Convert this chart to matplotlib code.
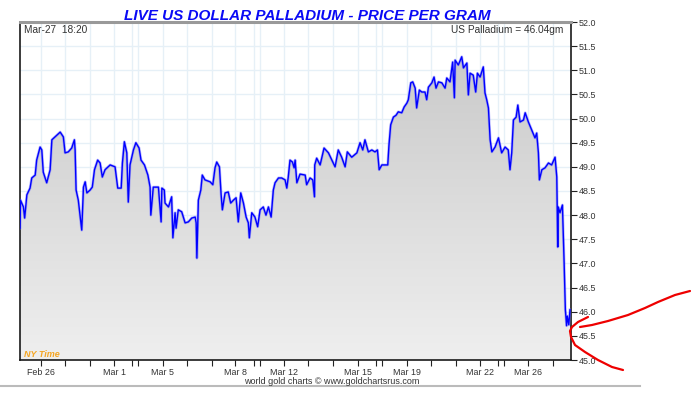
import numpy as np
import matplotlib
matplotlib.use('Agg')
from matplotlib import pyplot as plt
from matplotlib.colors import LinearSegmentedColormap
from matplotlib.patches import Polygon
from matplotlib.lines import Line2D

plt.rcParams['font.family'] = ['Liberation Sans', 'DejaVu Sans']

# trading-day index (weekends squeezed), 0 = Feb 26
t_days = [-0.86, -0.84, -0.72, -0.67, -0.58, -0.45, -0.38, -0.24, -0.18, -0.04,
          0.03, 0.09, 0.23, 0.37, 0.44, 0.57, 0.78, 0.91, 0.98, 1.11,
          1.25, 1.36, 1.39, 1.43, 1.52, 1.66, 1.73, 1.80, 1.87, 2.00,
          2.09, 2.18, 2.31, 2.41, 2.50, 2.61, 2.82, 3.02, 3.13, 3.27,
          3.32, 3.40, 3.50, 3.56, 3.63, 3.77, 3.87, 4.00, 4.08, 4.22,
          4.36, 4.45, 4.48, 4.58, 4.79, 4.90, 4.93, 5.03, 5.06, 5.20,
          5.33, 5.38, 5.47, 5.51, 5.60, 5.74, 5.88, 6.01, 6.15, 6.29,
          6.33, 6.36, 6.42, 6.52, 6.58, 6.69, 6.90, 7.01, 7.10, 7.17,
          7.28, 7.35, 7.40, 7.51, 7.64, 7.74, 7.85, 7.96, 8.05, 8.15,
          8.26, 8.37, 8.46, 8.50, 8.60, 8.73, 8.84, 8.94, 9.07, 9.18,
          9.28, 9.39, 9.48, 9.55, 9.69, 9.82, 9.96, 10.03, 10.09, 10.16,
          10.26, 10.33, 10.37, 10.44, 10.57, 10.78, 10.84, 10.98, 11.09, 11.16,
          11.17, 11.25, 11.39, 11.55, 11.73, 11.87, 12.00, 12.13, 12.27, 12.41,
          12.50, 12.68, 12.89, 13.02, 13.13, 13.22, 13.36, 13.50, 13.63, 13.73,
          13.80, 13.91, 14.15, 14.20, 14.27, 14.38, 14.49, 14.58, 14.72, 14.82,
          14.93, 14.99, 15.09, 15.17, 15.27, 15.33, 15.44, 15.54, 15.67, 15.74,
          15.81, 15.95, 16.04, 16.12, 16.22, 16.36, 16.49, 16.56, 16.69, 16.80,
          16.87, 16.90, 17.03, 17.17, 17.24, 17.38, 17.44, 17.51, 17.64, 17.74,
          17.81, 17.92, 18.05, 18.12, 18.19, 18.26, 18.33, 18.40, 18.53, 18.67,
          18.80, 18.94, 19.07, 19.14, 19.21, 19.28, 19.39, 19.46, 19.55, 19.69,
          19.76, 19.89, 20.03, 20.16, 20.23, 20.30, 20.34, 20.44, 20.57, 20.71,
          20.84, 20.98, 21.05, 21.09, 21.11, 21.18, 21.28, 21.32, 21.35, 21.40,
          21.45, 21.48, 21.54, 21.59]

price = [47.73, 48.31, 48.17, 47.94, 48.42, 48.56, 48.77, 48.83, 49.14, 49.41,
         49.35, 48.89, 48.67, 48.94, 49.56, 49.62, 49.72, 49.62, 49.29, 49.31,
         49.39, 49.56, 49.35, 48.52, 48.31, 47.69, 48.58, 48.69, 48.46, 48.52,
         48.58, 48.94, 49.14, 49.08, 48.79, 48.94, 49.04, 49.00, 48.56, 48.56,
         49.08, 49.52, 49.29, 48.27, 49.04, 49.35, 49.50, 49.39, 49.14, 49.04,
         48.83, 48.58, 48.00, 48.58, 48.58, 47.86, 48.56, 48.52, 48.25, 48.17,
         48.38, 47.53, 48.05, 47.73, 48.11, 48.07, 47.84, 47.86, 47.94, 47.96,
         47.84, 47.11, 48.31, 48.52, 48.83, 48.73, 48.69, 48.63, 48.98, 49.10,
         49.00, 48.42, 48.11, 48.46, 48.48, 48.25, 48.31, 48.36, 47.86, 48.46,
         48.25, 47.96, 47.84, 47.53, 48.05, 47.96, 47.76, 48.11, 48.17, 48.00,
         48.17, 47.96, 48.52, 48.67, 48.77, 48.77, 48.73, 48.56, 48.79, 49.14,
         49.10, 48.98, 49.14, 48.67, 48.85, 48.83, 48.63, 48.77, 48.73, 48.38,
         49.04, 49.18, 49.04, 49.39, 49.29, 49.14, 49.00, 49.35, 49.20, 49.00,
         49.31, 49.20, 49.29, 49.50, 49.35, 49.56, 49.31, 49.35, 49.31, 49.35,
         48.94, 49.04, 49.04, 49.45, 49.87, 50.03, 50.07, 50.14, 50.12, 50.24,
         50.32, 50.39, 50.74, 50.76, 50.63, 50.22, 50.59, 50.55, 50.55, 50.39,
         50.65, 50.74, 50.86, 50.63, 50.76, 50.74, 50.63, 50.84, 50.76, 51.17,
         50.43, 51.21, 51.11, 51.28, 51.05, 51.15, 50.49, 50.94, 50.90, 50.55,
         50.94, 50.86, 51.07, 50.53, 50.39, 50.22, 49.56, 49.31, 49.41, 49.60,
         49.29, 49.41, 49.35, 48.94, 49.29, 49.97, 50.03, 50.28, 49.93, 49.97,
         50.12, 49.93, 49.76, 49.60, 49.70, 49.29, 48.73, 48.94, 48.98, 49.08,
         49.04, 49.20, 48.79, 47.34, 48.17, 48.05, 48.21, 47.55, 47.01, 46.04,
         45.71, 45.91, 45.73, 46.04]

label_pos = [0, 2.98, 4.97, 7.92, 9.93, 12.95, 14.93, 17.92, 19.89]
label_txt = ['Feb 26', 'Mar 1', 'Mar 5', 'Mar 8', 'Mar 12', 'Mar 15', 'Mar 19', 'Mar 22', 'Mar 26']
minor_pos = [0.98, 1.99, 3.73, 3.97, 5.96, 6.97, 8.71, 8.95, 10.91, 11.93,
             13.67, 13.92, 15.91, 16.94, 18.67, 18.90, 20.91]
y_ticks = [45.0, 45.5, 46.0, 46.5, 47.0, 47.5, 48.0, 48.5, 49.0, 49.5, 50.0, 50.5, 51.0, 51.5, 52.0]

x_lo, x_hi = -0.86, 21.63
y_lo, y_hi = 45.0, 52.0

fig = plt.figure(figsize=(6.91, 3.93), dpi=100)
ax = fig.add_axes([20/691, 33/393, 551/691, 338/393])

# grey gradient under the price line
cmap = LinearSegmentedColormap.from_list('fillgrey', ['#c6c6c6', '#efefef'])
grad = np.linspace(0, 1, 256).reshape(-1, 1)
img = ax.imshow(grad, cmap=cmap, aspect='auto', extent=[x_lo, x_hi, y_lo, y_hi], zorder=1)
verts = [(t_days[0], y_lo)] + list(zip(t_days, price)) + [(t_days[-1], y_lo)]
clip = Polygon(verts, closed=True, facecolor='none', edgecolor='none')
ax.add_patch(clip)
img.set_clip_path(clip)

ax.plot(t_days, price, color='#7070ff', lw=2.0, alpha=0.5, zorder=3)
ax.plot(t_days, price, color='#0000ff', lw=1.0, zorder=4)

ax.set_xlim(x_lo, x_hi)
ax.set_ylim(y_lo, y_hi)

ax.set_xticks(label_pos)
ax.set_xticklabels(label_txt)
ax.set_xticks(minor_pos, minor=True)
ax.set_yticks(y_ticks)
ax.set_yticklabels(['%.1f' % v for v in y_ticks])
ax.yaxis.tick_right()

ax.tick_params(axis='x', which='both', direction='out', length=4, width=0.8,
               color='#222222', labelsize=6.4, labelcolor='#333333', pad=2)
ax.tick_params(axis='y', direction='out', length=4, width=0.8,
               color='#222222', labelsize=6.4, labelcolor='#333333', pad=1.5)

ax.grid(True, which='both', color='#e6f0f7', lw=1.0, zorder=0)
ax.set_axisbelow(True)

for side in ['left', 'bottom', 'right']:
    ax.spines[side].set_color('#1a1a1a')
    ax.spines[side].set_linewidth(1.2)
ax.spines['top'].set_color('#999999')
ax.spines['top'].set_linewidth(2.2)

ax.text(0.007, 0.992, 'Mar-27  18:20', transform=ax.transAxes, ha='left', va='top',
        fontsize=7.3, color='#333333')
ax.text(0.9855, 0.992, 'US Palladium = 46.04gm', transform=ax.transAxes, ha='right', va='top',
        fontsize=7.3, color='#333333')
ax.text(0.007, 0.01, 'NY Time', transform=ax.transAxes, ha='left', va='baseline',
        fontsize=6.5, fontweight='bold', fontstyle='italic', color='#f5a623')

fig.text(307/691, 1 - 20/393, 'LIVE US DOLLAR PALLADIUM - PRICE PER GRAM', ha='center',
         va='baseline', fontsize=11, fontweight='bold', fontstyle='italic', color='#0a0af5')
fig.text(332/691, 1 - 384/393, 'world gold charts \u00a9 www.goldchartsrus.com', ha='center',
         va='baseline', fontsize=6.5, color='#333333')

# grey rule along the bottom of the image
fig.add_artist(Line2D([0, 640/691], [1 - 386/393, 1 - 386/393], transform=fig.transFigure,
                      color='#bbbbbb', lw=1.5))

# hand-drawn red marks near the last price
mark_a = [(588, 317), (578, 322), (572, 327), (570, 331), (571, 337), (575, 345),
          (585, 352), (598, 360), (612, 367), (623, 370)]
mark_b = [(580, 327), (592, 325), (608, 321), (628, 315), (645, 308), (658, 302),
          (675, 295), (690, 291)]
for mark in (mark_a, mark_b):
    xs = [p[0] / 691 for p in mark]
    ys = [1 - p[1] / 393 for p in mark]
    fig.add_artist(Line2D(xs, ys, transform=fig.transFigure, color='#ee0000', lw=1.6,
                          solid_capstyle='round', solid_joinstyle='round'))

fig.savefig('out.png', dpi=100)
